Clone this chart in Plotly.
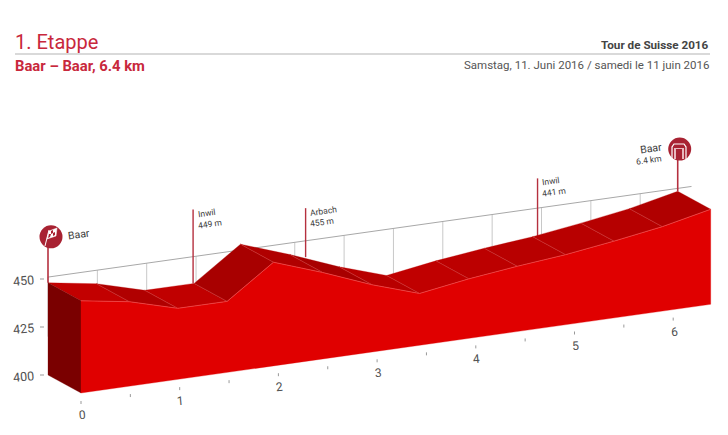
import plotly.graph_objects as go

# ---- data ----
km = [0, 0.49, 0.98, 1.48, 1.95, 2.45, 2.95, 3.43, 3.93, 4.42, 4.91, 5.40, 5.89, 6.38]
elev = [448, 444, 437, 437, 454, 445, 435, 427, 431, 434, 436.5, 440, 444, 449.5]
seg_colors = ["#c20000", "#b00000", "#c00000", "#a80000", "#b00000", "#a80000", "#b80000",
              "#c00000", "#bc0000", "#b80000", "#b80000", "#b60000", "#b00000"]
km_ticks = [0, 1, 2, 3, 4, 5, 6]
km_minor = [0.5, 1.5, 2.5, 3.5, 4.5, 5.5, 6.5]
alt_ticks = [400, 425, 450]
grid_km = [0, 0.5, 1, 1.5, 2, 2.5, 3, 3.5, 4, 4.5, 5, 5.5, 6]
pole_names = ["Inwil", "Arbach", "Inwil"]
pole_heights = ["449 m", "455 m", "441 m"]
pole_km = [1.47, 2.61, 4.96]
pole_elev = [437, 442.5, 436.5]
pole_rise = [38.5, 25.5, 30]

W, H = 728, 435
PAGE = 8  # page body margin that offsets the plot
PX_KM, PX_M = 98.7, 1.92
DX, DY = 33, 18
RISE = 13.9
ORIGIN_X, ORIGIN_Y = 81 - PAGE, 393 - PAGE
BASE = 400
TOP_LINE = 451


def X(k, d=0):
    return k - d * DX / PX_KM


def Y(k, e, d=0):
    return e + k * RISE / PX_M + d * DY / PX_M


def px(x):
    return (x - PAGE) / W


def py(y):
    return 1 - (y - PAGE) / H


RED_TXT = "#c8283c"
POLE = "#b5303f"
GREY = "#c8c8c8"
DARK = "#3c3c3c"
TICK_TXT = "#505050"
FONT = "Roboto"

fig = go.Figure()


def poly(xs, ys, color):
    fig.add_trace(go.Scatter(x=xs, y=ys, mode="lines", fill="toself", fillcolor=color,
                             line=dict(color=color, width=0.3), hoverinfo="skip", showlegend=False))


def line(xs, ys, color, width):
    fig.add_trace(go.Scatter(x=xs, y=ys, mode="lines", line=dict(color=color, width=width),
                             hoverinfo="skip", showlegend=False))


# back wall grid
end_km = 6.52
for g in grid_km:
    line([X(g, 1), X(g, 1)], [Y(g, BASE + 20, 1), Y(g, TOP_LINE, 1)], GREY, 1)
line([X(0, 1), X(end_km, 1)], [Y(0, TOP_LINE, 1), Y(end_km, TOP_LINE, 1)], "#a8a8a8", 1)

# poles standing on the back edge
for k, e, r in zip(pole_km, pole_elev, pole_rise):
    line([X(k, 1), X(k, 1)], [Y(k, e, 1), Y(k, e + r, 1)], POLE, 1.4)
line([X(km[0], 1), X(km[0], 1)], [Y(km[0], elev[0], 1), Y(km[0], elev[0] + 24, 1)], POLE, 1.6)
line([X(km[-1], 1), X(km[-1], 1)], [Y(km[-1], elev[-1], 1), Y(km[-1], elev[-1] + 22, 1)], POLE, 1.6)

# top surface
for i in range(len(km) - 1):
    a, b = km[i], km[i + 1]
    ea, eb = elev[i], elev[i + 1]
    poly([X(a, 0), X(b, 0), X(b, 1), X(a, 1), X(a, 0)],
         [Y(a, ea, 0), Y(b, eb, 0), Y(b, eb, 1), Y(a, ea, 1), Y(a, ea, 0)], seg_colors[i])
for k, e in zip(km[1:-1], elev[1:-1]):
    line([X(k, 0), X(k, 1)], [Y(k, e, 0), Y(k, e, 1)], "#cf3a3a", 0.6)

# left wall
poly([X(0, 0), X(0, 1), X(0, 1), X(0, 0), X(0, 0)],
     [Y(0, elev[0], 0), Y(0, elev[0], 1), Y(0, BASE, 1), Y(0, BASE, 0), Y(0, elev[0], 0)], "#7a0000")

# front wall
fx = [X(k) for k in km] + [X(km[-1]), X(0), X(0)]
fy = [Y(k, e) for k, e in zip(km, elev)] + [Y(km[-1], BASE), Y(0, BASE), Y(0, elev[0])]
poly(fx, fy, "#e00000")
line([X(k) for k in km], [Y(k, e) for k, e in zip(km, elev)], "#f05050", 0.7)

# km ticks
for t in km_ticks + km_minor:
    line([X(t), X(t)], [Y(t, BASE - 8 / PX_M), Y(t, BASE - 11 / PX_M)], "#999999", 1)
# altitude ticks
for a in alt_ticks:
    line([X(0, 1) - 8 / PX_KM, X(0, 1) - 4 / PX_KM], [Y(0, a, 1), Y(0, a, 1)], "#999999", 1)

# finish / start discs
fig.add_trace(go.Scatter(x=[X(0, 1) + 3 / PX_KM, X(km[-1], 1) + 2 / PX_KM],
                         y=[Y(0, elev[0] + 24, 1), Y(km[-1], elev[-1] + 22, 1)],
                         mode="markers", marker=dict(size=23, color="#a82232"),
                         hoverinfo="skip", showlegend=False))

ann = []


def text(x, y, s, size, color=DARK, anchor="left", angle=0, xref="paper", yref="paper", **kw):
    ann.append(dict(x=x, y=y, xref=xref, yref=yref, text=s, showarrow=False, xanchor=anchor,
                    yanchor="middle", textangle=angle, font=dict(family=FONT, size=size, color=color), **kw))


text(px(13), py(42), "1. Etappe", 20, RED_TXT)
text(px(13), py(66), "<b>Baar – Baar, 6.4 km</b>", 14.8, RED_TXT)
text(px(711), py(45), "<b>Tour de Suisse 2016</b>", 11.7, "#444444", "right")
text(px(711), py(65), "Samstag, 11. Juni 2016 / samedi le 11 juin 2016", 11.5, "#555555", "right")

for t in km_ticks:
    text(X(t), Y(t, BASE), str(t), 12, TICK_TXT, "center", -5, "x", "y", xshift=1, yshift=-22)
for a in alt_ticks:
    text(X(0, 1), Y(0, a, 1), str(a), 12.5, TICK_TXT, "right", -5, "x", "y", xshift=-11, yshift=-1.5)

for n, h, k, e, r in zip(pole_names, pole_heights, pole_km, pole_elev, pole_rise):
    top = e + r
    text(X(k, 1), Y(k, top, 1), n, 8.5, DARK, "left", -8, "x", "y", xshift=2, yshift=-3)
    text(X(k, 1), Y(k, top, 1), h, 8.5, DARK, "left", -8, "x", "y", xshift=2, yshift=-14)

text(X(0, 1), Y(0, elev[0] + 24, 1), "Baar", 10.5, DARK, "left", -8, "x", "y", xshift=17, yshift=2)
text(X(km[-1], 1), Y(km[-1], elev[-1] + 22, 1), "Baar", 10.5, DARK, "right", -8, "x", "y", xshift=-13, yshift=1)
text(X(km[-1], 1), Y(km[-1], elev[-1] + 22, 1), "6.4 km", 8.5, DARK, "right", -8, "x", "y", xshift=-13, yshift=-11)


def path(points, close=True):
    d = "M" + " L".join(f"{px(a):.5f},{py(b):.5f}" for a, b in points)
    return d + (" Z" if close else "")


shapes = [
    dict(type="line", xref="paper", yref="paper", x0=px(15), x1=px(710), y0=py(54), y1=py(54),
         line=dict(color="#cccccc", width=1.6)),
    # start flag
    dict(type="path", xref="paper", yref="paper", line=dict(color="white", width=1),
         path=path([(45, 246), (49, 230)], False)),
    dict(type="path", xref="paper", yref="paper", fillcolor="white", line=dict(color="white", width=0.5),
         path=path([(49, 231), (57, 228), (56, 236), (47, 239)])),
    dict(type="path", xref="paper", yref="paper", fillcolor="#a82232", line=dict(width=0),
         path=path([(51, 231), (53, 230), (53, 233), (51, 234)])),
    dict(type="path", xref="paper", yref="paper", fillcolor="#a82232", line=dict(width=0),
         path=path([(53, 233), (55, 232), (55, 235), (53, 236)])),
    dict(type="path", xref="paper", yref="paper", fillcolor="#a82232", line=dict(width=0),
         path=path([(49, 234), (51, 234), (50, 237), (48, 238)])),
    # finish gate
    dict(type="path", xref="paper", yref="paper", line=dict(color="white", width=1.2),
         path=path([(672, 159), (672, 147), (674, 144), (684, 144), (686, 147), (686, 159)], False)),
    dict(type="path", xref="paper", yref="paper", fillcolor="#e8b8bd", line=dict(width=0),
         path=path([(674, 148), (684, 148), (684, 159), (674, 159)])),
    dict(type="path", xref="paper", yref="paper", fillcolor="#a82232", line=dict(width=0),
         path=path([(676, 149), (682, 149), (682, 159), (676, 159)])),
]

fig.update_layout(
    width=W, height=H, autosize=False,
    margin=dict(l=0, r=0, t=0, b=0),
    paper_bgcolor="white", plot_bgcolor="white",
    xaxis=dict(range=[-ORIGIN_X / PX_KM, (W - ORIGIN_X) / PX_KM], visible=False, fixedrange=True),
    yaxis=dict(range=[BASE - (H - ORIGIN_Y) / PX_M, BASE + ORIGIN_Y / PX_M], visible=False, fixedrange=True),
    annotations=ann, shapes=shapes, showlegend=False,
)
fig.write_html("out.html", config=dict(displayModeBar=False))
